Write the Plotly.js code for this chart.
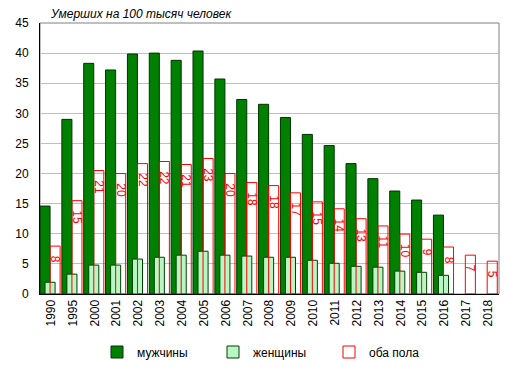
<!DOCTYPE html>
<html>
<head>
<meta charset="utf-8">
<script src="https://cdn.plot.ly/plotly-3.0.1.min.js"></script>
<style>html,body{margin:0;padding:0;background:#fff;}#chart{width:515px;height:371px;}</style>
</head>
<body>
<div id="chart"></div>
<script>
const years = ["1990","1995","2000","2001","2002","2003","2004","2005","2006","2007","2008","2009","2010","2011","2012","2013","2014","2015","2016","2017","2018"];
const men = [14.6,29.0,38.3,37.2,39.85,40.0,38.8,40.35,35.7,32.3,31.5,29.3,26.5,24.65,21.65,19.15,17.1,15.6,13.1,null,null];
const women = [1.95,3.3,4.8,4.8,5.8,6.1,6.45,7.1,6.45,6.3,6.1,6.1,5.6,5.1,4.6,4.45,3.8,3.6,3.1,null,null];
const both = [7.95,15.5,20.5,20.0,21.65,22.0,21.5,22.5,20.0,18.5,18.0,16.8,15.3,14.15,12.5,11.3,9.95,9.1,7.8,6.45,5.45];
const bothLabels = ["8","15","21","20","22","22","21","23","20","18","18","17","15","14","13","11","10","9","8","7","5"];
const seriesNames = ["мужчины","женщины","оба пола"];
const titleText = "Умерших на 100 тысяч человек";
const yTicks = [0,5,10,15,20,25,30,35,40,45];

const font = "Arial, 'Liberation Sans', sans-serif";
const data = [
  {type:"bar", name:seriesNames[0], x:years, y:men, width:0.46, offset:-0.5,
   marker:{color:"#008000", line:{color:"#003300", width:1}}, hoverinfo:"skip"},
  {type:"bar", name:seriesNames[1], x:years, y:women, width:0.46, offset:-0.27,
   marker:{color:"#b9f6c4", line:{color:"#004000", width:1}}, hoverinfo:"skip"},
  {type:"bar", name:seriesNames[2], x:years, y:both, width:0.46, offset:-0.04,
   marker:{color:"rgba(0,0,0,0)", line:{color:"#ff0000", width:1}},
   text:bothLabels, texttemplate:"\u00a0\u00a0%{text}", textposition:"inside", insidetextanchor:"end", textangle:90,
   constraintext:"none", cliponaxis:false,
   insidetextfont:{color:"#ff0000", size:12, family:font}, hoverinfo:"skip"}
];
const layout = {
  width:515, height:371,
  margin:{l:40, r:16, t:23, b:77},
  paper_bgcolor:"#fff", plot_bgcolor:"#fff",
  barmode:"overlay",
  font:{family:font, size:12, color:"#000"},
  title:{text:titleText, font:{family:font, size:12, color:"#000", style:"italic"},
         xref:"container", x:51/515, xanchor:"left", yref:"container", y:1-14/371, yanchor:"middle"},
  xaxis:{type:"category", range:[-0.5,20.5], tickangle:-90, showgrid:false,
         showline:true, linecolor:"#000", linewidth:1, ticks:"", tickfont:{size:12, color:"#000"},
         fixedrange:true},
  yaxis:{range:[0,45], tickvals:yTicks, showgrid:true, gridcolor:"#c0c0c0", gridwidth:1,
         zeroline:false, showline:true, linecolor:"#000", linewidth:1, ticks:"",
         tickfont:{size:12, color:"#000"}, ticklabelstandoff:8, fixedrange:true},
  shapes:[{type:"rect", xref:"paper", yref:"paper", x0:0, x1:1, y0:0, y1:1,
           line:{color:"#808080", width:1}, layer:"below"}],
  showlegend:true,
  legend:{orientation:"h", xref:"container", yref:"container", x:97/515, xanchor:"left",
          y:1-352/371, yanchor:"middle", font:{size:12, color:"#000"},
          entrywidth:71, entrywidthmode:"pixels", traceorder:"normal"}
};
Plotly.newPlot("chart", data, layout, {displayModeBar:false, staticPlot:true});
</script>
</body>
</html>
